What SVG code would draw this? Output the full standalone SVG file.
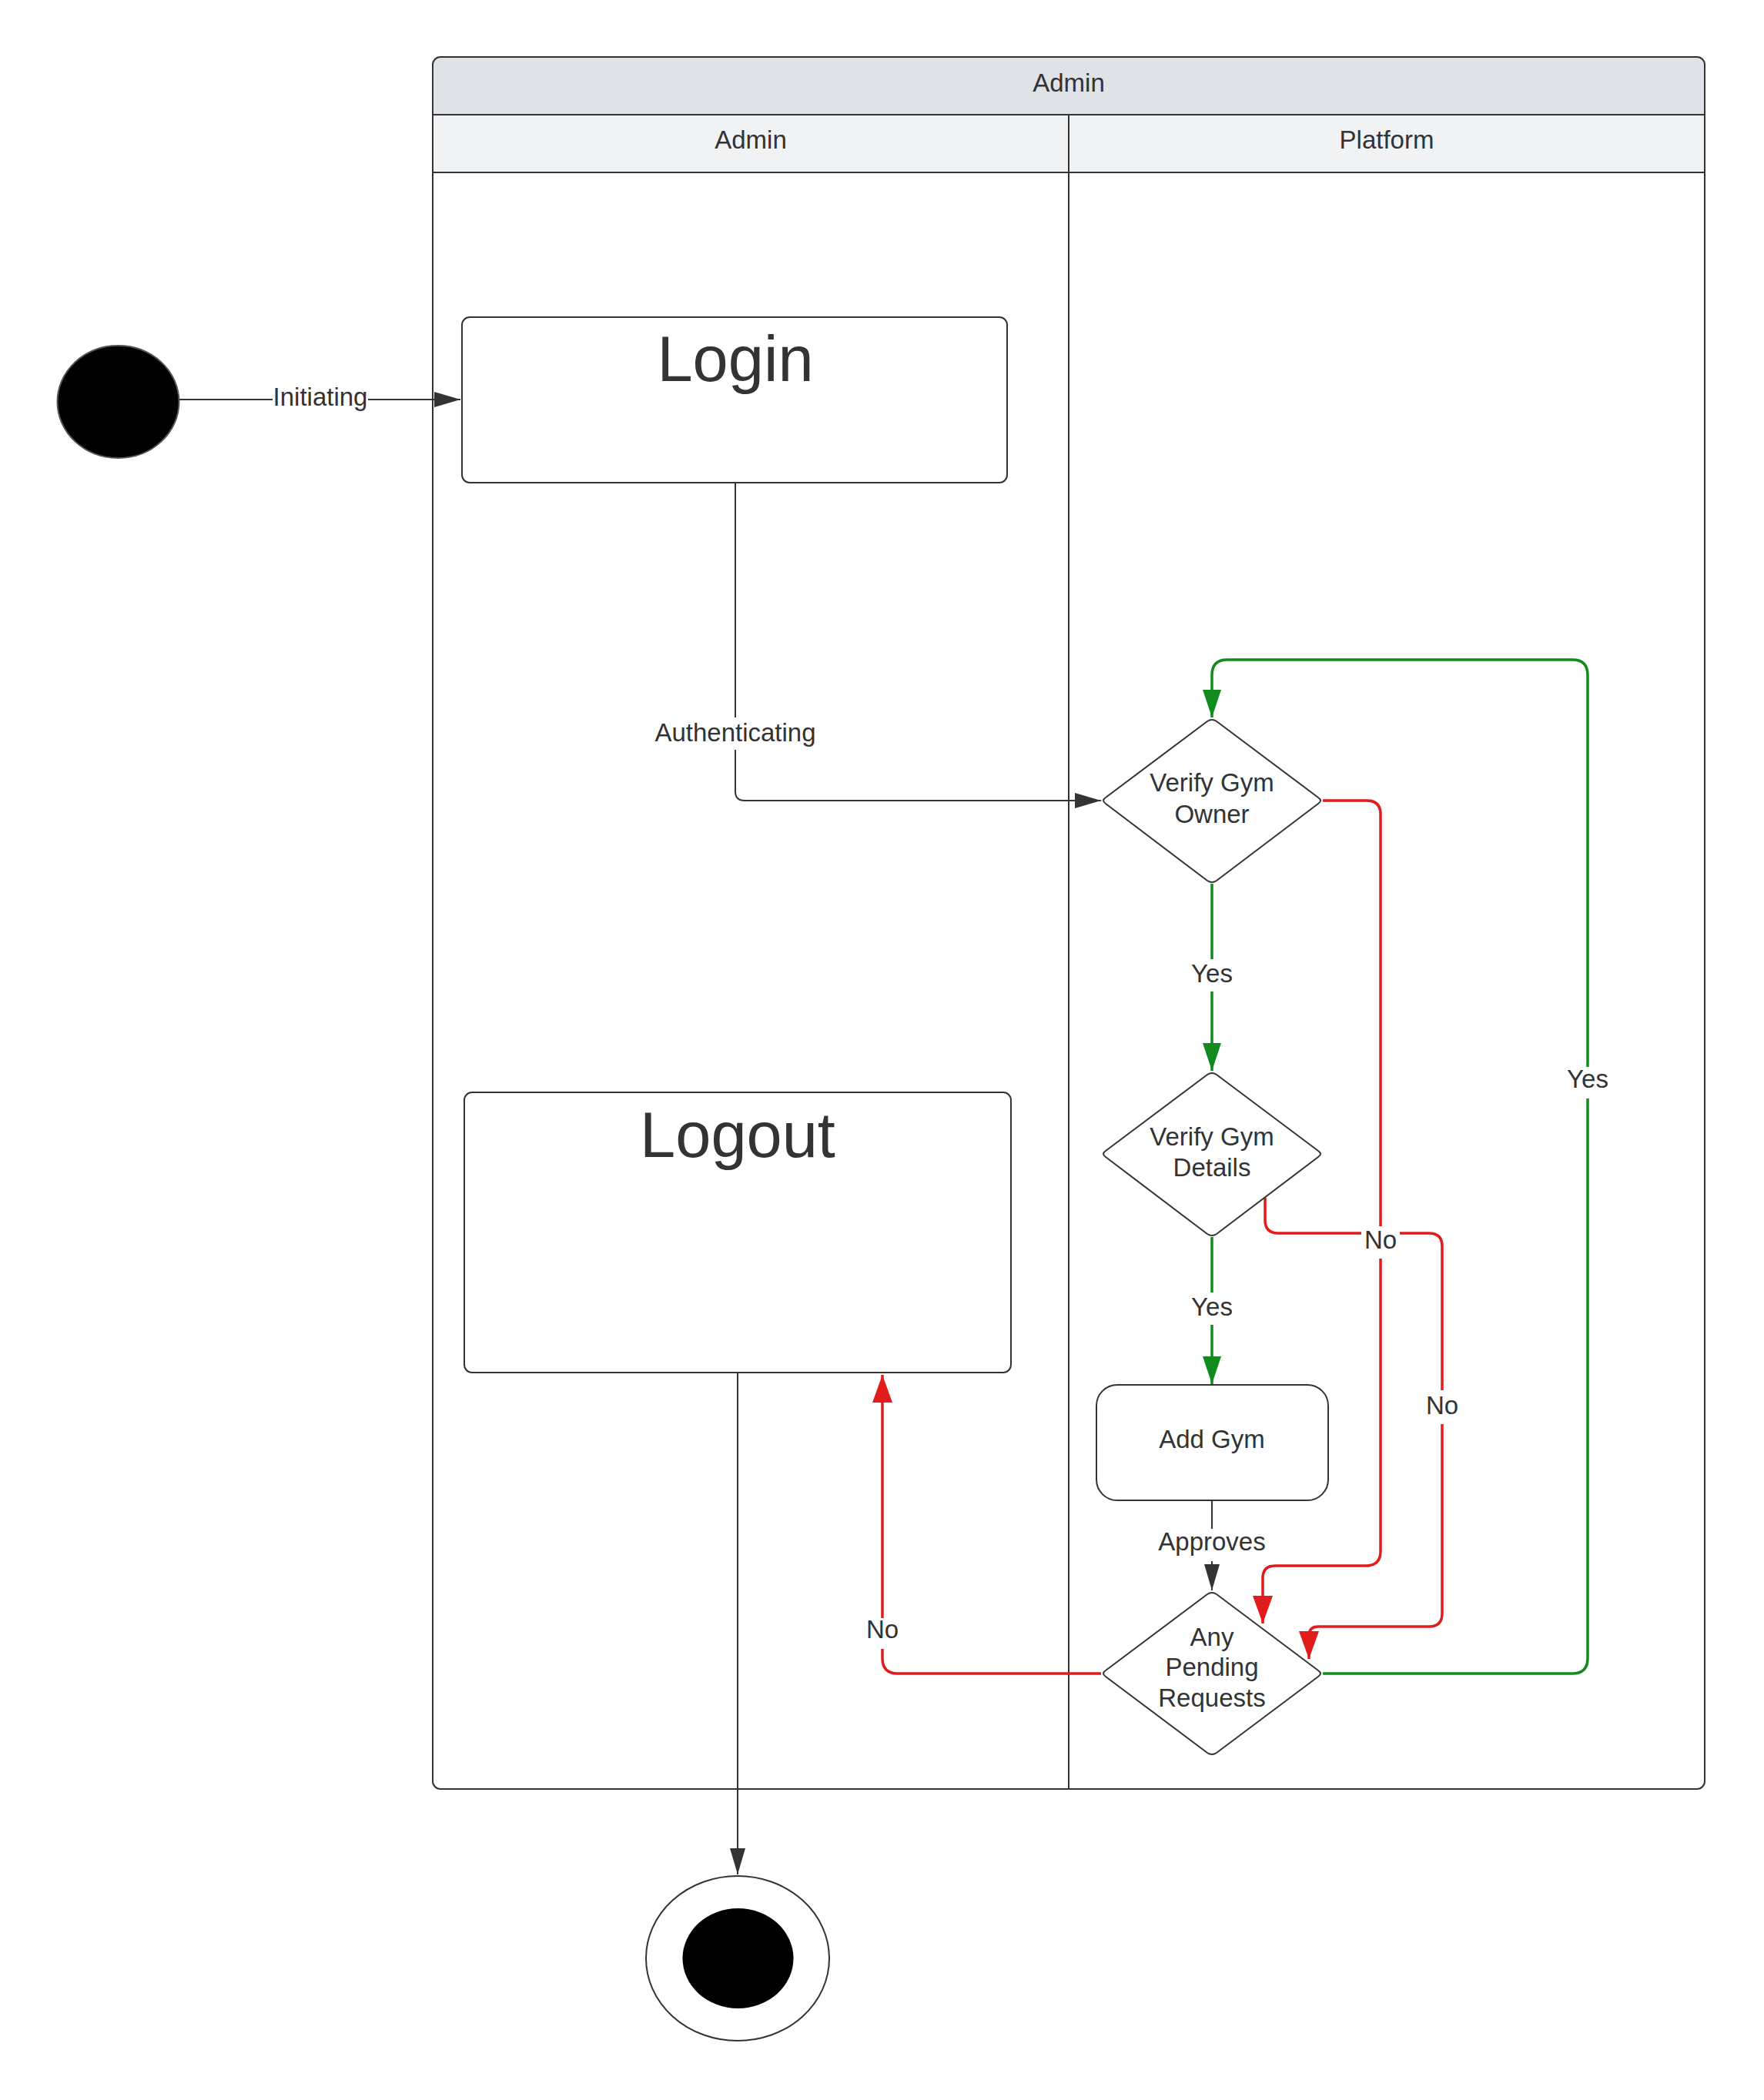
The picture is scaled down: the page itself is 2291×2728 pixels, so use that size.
<svg xmlns="http://www.w3.org/2000/svg" width="2291" height="2728" viewBox="0 0 2291 2728">
<style>
text{font-family:"Liberation Sans",Arial,sans-serif;fill:#333333;text-anchor:middle}
.t{font-size:33px}
.big{font-size:83px}
.shape{fill:#ffffff;stroke:#333333;stroke-width:2}
.dk{fill:none;stroke:#333333;stroke-width:2}
.gr{fill:none;stroke:#118a1e;stroke-width:3.5}
.rd{fill:none;stroke:#e01c1c;stroke-width:3.5}
.bg{fill:#ffffff}
</style>
<defs>
<marker id="aDk" viewBox="0 0 34 20" refX="34" refY="10" markerWidth="34" markerHeight="20" orient="auto" markerUnits="userSpaceOnUse"><path d="M0,0 L34,10 L0,20 z" fill="#333333"/></marker>
<marker id="aGr" viewBox="0 0 36 24" refX="36" refY="12" markerWidth="36" markerHeight="24" orient="auto" markerUnits="userSpaceOnUse"><path d="M0,0 L36,12 L0,24 z" fill="#118a1e"/></marker>
<marker id="aRd" viewBox="0 0 36 26" refX="36" refY="13" markerWidth="36" markerHeight="26" orient="auto" markerUnits="userSpaceOnUse"><path d="M0,0 L36,13 L0,26 z" fill="#e01c1c"/></marker>
</defs>
<rect width="2291" height="2728" fill="#ffffff"/>

<g id="pool">
<path d="M562,149 V84 Q562,74 572,74 H2204 Q2214,74 2214,84 V149 Z" fill="#dfe2e6"/>
<rect x="562" y="149" width="1652" height="75" fill="#f1f2f4"/>
<rect x="562" y="74" width="1652" height="2250" rx="10" fill="none" stroke="#333333" stroke-width="2"/>
<line x1="562" y1="149" x2="2214" y2="149" stroke="#333333" stroke-width="2"/>
<line x1="562" y1="224" x2="2214" y2="224" stroke="#333333" stroke-width="2"/>
<line x1="1388" y1="149" x2="1388" y2="2324" stroke="#333333" stroke-width="2"/>
<text class="t" x="1388" y="119">Admin</text>
<text class="t" x="975" y="193">Admin</text>
<text class="t" x="1801" y="193">Platform</text>
</g>

<g id="connectors">
<path class="dk" d="M232,519 H598" marker-end="url(#aDk)"/>
<path class="dk" d="M955,627 V1028 Q955,1040 967,1040 H1430" marker-end="url(#aDk)"/>
<path class="gr" d="M1574,1148 V1391" marker-end="url(#aGr)"/>
<path class="gr" d="M1574,1607 V1798" marker-end="url(#aGr)"/>
<path class="dk" d="M1574,1949 V2066" marker-end="url(#aDk)"/>
<path class="rd" d="M1718,1040 H1775 Q1793,1040 1793,1058 V2015 Q1793,2034 1774,2034 H1656 Q1640,2034 1640,2050 V2109" marker-end="url(#aRd)"/>
<path class="rd" d="M1643,1556 V1585 Q1643,1602 1660,1602 H1856 Q1873,1602 1873,1619 V2096 Q1873,2113 1856,2113 H1712 Q1700,2113 1700,2125 V2155" marker-end="url(#aRd)"/>
<path class="gr" d="M1718,2174 H2042 Q2062,2174 2062,2154 V877 Q2062,857 2042,857 H1594 Q1574,857 1574,877 V932" marker-end="url(#aGr)"/>
<path class="rd" d="M1430,2174 H1166 Q1146,2174 1146,2154 V1786" marker-end="url(#aRd)"/>
<path class="dk" d="M958,1783 V2435" marker-end="url(#aDk)"/>
<g id="labels">
<rect class="bg" x="354" y="500" width="124" height="36"/>
<text class="t" x="416" y="527">Initiating</text>
<rect class="bg" x="850" y="932" width="210" height="42"/>
<text class="t" x="955" y="963">Authenticating</text>
<rect class="bg" x="1545" y="1246" width="58" height="42"/>
<text class="t" x="1574" y="1276">Yes</text>
<rect class="bg" x="1545" y="1679" width="58" height="42"/>
<text class="t" x="1574" y="1709">Yes</text>
<rect class="bg" x="1541" y="1986" width="66" height="42"/>
<text class="t" x="1574" y="2014">Approves</text>
<rect class="bg" x="1768" y="1593" width="50" height="42"/>
<text class="t" x="1793" y="1622">No</text>
<rect class="bg" x="1850" y="1806" width="46" height="44"/>
<text class="t" x="1873" y="1837">No</text>
<rect class="bg" x="2035" y="1386" width="54" height="41"/>
<text class="t" x="2062" y="1413">Yes</text>
<rect class="bg" x="1123" y="2102" width="46" height="40"/>
<text class="t" x="1146" y="2128">No</text>
</g>
</g>

<g id="start">
<ellipse cx="153.5" cy="522" rx="79" ry="73" fill="#000000" stroke="#555555" stroke-width="2"/>
</g>
<g id="login">
<rect class="shape" x="600" y="412" width="708" height="215" rx="10"/>
<text class="big" x="955" y="495">Login</text>
</g>
<g id="logout">
<rect class="shape" x="603" y="1419" width="710" height="364" rx="10"/>
<text class="big" x="958" y="1503">Logout</text>
</g>
<g id="verifyOwner">
<path class="shape" d="M1568,937 Q1574,933 1580,937 L1712,1036 Q1718,1040 1712,1044 L1580,1144 Q1574,1148 1568,1144 L1436,1044 Q1430,1040 1436,1036 Z"/>
<text class="t" x="1574" y="1028">Verify Gym</text>
<text class="t" x="1574" y="1069">Owner</text>
</g>
<g id="verifyDetails">
<path class="shape" d="M1568,1396 Q1574,1392 1580,1396 L1712,1495 Q1718,1499 1712,1503 L1580,1603 Q1574,1607 1568,1603 L1436,1503 Q1430,1499 1436,1495 Z"/>
<text class="t" x="1574" y="1488">Verify Gym</text>
<text class="t" x="1574" y="1528">Details</text>
</g>
<g id="addGym">
<rect class="shape" x="1424" y="1799" width="301" height="150" rx="27"/>
<text class="t" x="1574" y="1881">Add Gym</text>
</g>
<g id="pending">
<path class="shape" d="M1568,2071 Q1574,2067 1580,2071 L1712,2170 Q1718,2174 1712,2178 L1580,2277 Q1574,2281 1568,2277 L1436,2178 Q1430,2174 1436,2170 Z"/>
<text class="t" x="1574" y="2138">Any</text>
<text class="t" x="1574" y="2177">Pending</text>
<text class="t" x="1574" y="2217">Requests</text>
</g>
<g id="end">
<ellipse cx="958" cy="2544" rx="119" ry="107" fill="#ffffff" stroke="#333333" stroke-width="2"/>
<ellipse cx="958.5" cy="2544" rx="72" ry="65" fill="#000000"/>
</g>
</svg>
